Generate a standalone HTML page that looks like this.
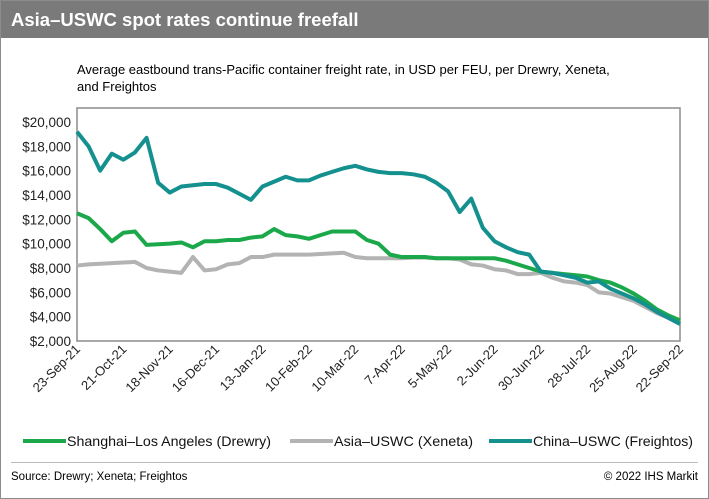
<!DOCTYPE html>
<html><head><meta charset="utf-8"><style>
body{margin:0;background:#fff;font-family:"Liberation Sans",Arial,sans-serif;}
#wrap{position:relative;width:707px;height:497px;border:1px solid #8c8c8c;overflow:hidden;}
#title{position:absolute;left:0;top:0;width:707px;height:37px;background:#7a7a7a;color:#fff;font-weight:bold;font-size:18.5px;line-height:37px;padding-left:10px;box-sizing:border-box;}
#sub{position:absolute;left:76px;top:60px;width:550px;font-size:13px;line-height:17px;color:#000;}
#foot{position:absolute;left:10px;top:461px;width:687px;border-top:1px solid #bbb;font-size:11.5px;padding-top:8px;}
</style></head><body>
<div id="wrap">
<div id="title">Asia–USWC spot rates continue freefall</div>
<div id="sub">Average eastbound trans-Pacific container freight rate, in USD per FEU, per Drewry, Xeneta, and Freightos</div>
<svg id="chart" width="709" height="499" style="position:absolute;left:-1px;top:-1px"></svg>
<div id="foot"><span>Source: Drewry; Xeneta; Freightos</span><span style="float:right">© 2022 IHS Markit</span></div>
</div>
<script>
const xLabels=["23-Sep-21","21-Oct-21","18-Nov-21","16-Dec-21","13-Jan-22","10-Feb-22","10-Mar-22","7-Apr-22","5-May-22","2-Jun-22","30-Jun-22","28-Jul-22","25-Aug-22","22-Sep-22"];
const yTicks=[2000,4000,6000,8000,10000,12000,14000,16000,18000,20000];
const drewry=[12.5,12.1,11.2,10.2,10.9,11.0,9.9,9.95,10.0,10.1,9.7,10.2,10.2,10.3,10.3,10.5,10.6,11.2,10.7,10.6,10.4,10.7,11.0,11.0,11.0,10.3,10.0,9.1,8.9,8.9,8.9,8.8,8.8,8.8,8.8,8.8,8.8,8.6,8.3,8.0,7.7,7.6,7.5,7.4,7.3,7.0,6.8,6.4,5.9,5.3,4.6,4.1,3.7];
const xeneta=[8.2,8.3,8.35,8.4,8.45,8.5,8.0,7.8,7.7,7.6,8.9,7.8,7.9,8.3,8.4,8.9,8.9,9.1,9.1,9.1,9.1,9.15,9.2,9.25,8.9,8.8,8.8,8.8,8.8,8.85,8.85,8.8,8.8,8.7,8.3,8.2,7.9,7.8,7.5,7.5,7.6,7.2,6.9,6.8,6.6,6.0,5.9,5.6,5.3,4.8,4.3,3.9,3.4];
const freightos=[19.2,18.0,16.0,17.4,16.9,17.5,18.7,15.0,14.2,14.7,14.8,14.9,14.9,14.6,14.1,13.6,14.7,15.1,15.5,15.2,15.2,15.6,15.9,16.2,16.4,16.1,15.9,15.8,15.8,15.7,15.5,15.0,14.3,12.6,13.7,11.3,10.2,9.7,9.3,9.1,7.7,7.6,7.4,7.2,6.8,6.9,6.3,5.9,5.5,5.0,4.4,3.9,3.4];
const L=77,R=680,T=108,B=341,ymin=2000,ymax=20000,ytop=122;
const NS="http://www.w3.org/2000/svg",svg=document.getElementById('chart');
function x(i){return L+(R-L)*i/52;}
function y(v){return B-(v-ymin)/(ymax-ymin)*(B-ytop);}
function mk(t,a,p){const e=document.createElementNS(NS,t);for(const k in a)e.setAttribute(k,a[k]);(p||svg).appendChild(e);return e;}
const frame=mk('rect',{x:L,y:T,width:R-L,height:B-T,fill:'none',stroke:'#8c8c8c','stroke-width':1.5});


yTicks.forEach(v=>{const t=mk('text',{x:L-6,y:y(v)+5,'text-anchor':'end','font-size':13.5,fill:'#222'});t.textContent='$'+v.toLocaleString('en-US');

});
xLabels.forEach((s,k)=>{const xx=x(k*4);const t=mk('text',{x:xx+4,y:B+9,'text-anchor':'end','font-size':13,fill:'#222',transform:`rotate(-45 ${xx+4} ${B+9})`});t.textContent=s;

});
function line(arr,col,name){const p=mk('polyline',{points:arr.map((v,i)=>x(i)+','+y(v*1000)).join(' '),fill:'none',stroke:col,'stroke-width':4,'stroke-linejoin':'round'});

}
line(xeneta,'#b3b3b3','xeneta-line');
line(drewry,'#1aa84a','drewry-line');
line(freightos,'#14908f','freightos-line');
const leg=[["Shanghai–Los Angeles (Drewry)",'#1aa84a',23,204],["Asia–USWC (Xeneta)",'#b3b3b3',290,139],["China–USWC (Freightos)",'#14908f',489,160]];
leg.forEach(([s,c,lx,w])=>{const g=mk('g',{});


mk('line',{x1:lx,y1:441,x2:lx+43,y2:441,stroke:c,'stroke-width':4},g);const t=mk('text',{x:lx+44,y:446,'font-size':14,fill:'#111',textLength:w,lengthAdjust:'spacingAndGlyphs'},g);t.textContent=s;});
</script>
</body></html>
